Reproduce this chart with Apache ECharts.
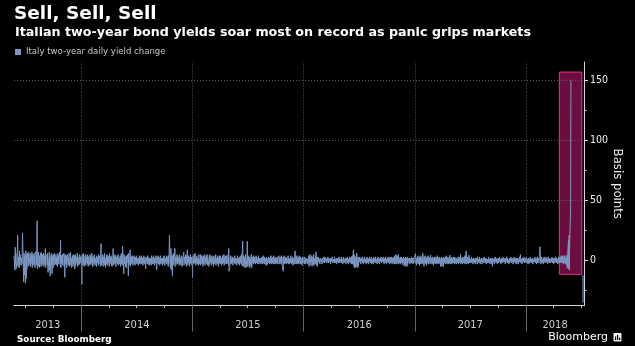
<!DOCTYPE html>
<html>
<head>
<meta charset="utf-8">
<script src="https://cdn.jsdelivr.net/npm/echarts@6/dist/echarts.min.js"></script>
<style>
  html, body { margin: 0; padding: 0; background: #000; }
  #chart { width: 635px; height: 346px; }
</style>
</head>
<body>
<div id="chart"></div>
<script>
// Daily change of the Italian two-year yield, basis points, one value per trading day.
const seriesName = 'Italy two-year daily yield change';

const changes2013 = [4,-8,11,-3,6,-7,2,9,21,-5,
  3,-6,8,-4,5,6,-4,2,-3,7,
  23,-9,-18,6,-12,4,-19,8,-15,5,
  -8,6,3,-5,7,-4,2,6,-5,4,
  -3,7,-6,5,2,-4,6,-3,4,-6,
  5,8,-4,6,33,-7,3,7,-5,4,
  -6,6,2,-5,7,-3,5,-4,3,6,
  -5,4,-3,10,-6,5,3,-4,6,-5,
  -10,4,7,-8,3,-13,5,-4,6,-11,
  4,-6,5,3,-4,6,-3,2,5,-4,
  3,-5,6,-2,4,-3,5,7,-4,17,
  -6,4,-3,5,-4,3,6,-5,4,-14,
  5,-3,4,-6,3,5,-4,2,-3,6,
  -5,3,7,-4,2,-6,4,3,-5,5,
  -3,4,-7,2,5,-4,3,-2,6,-5,
  3,-4,2,5,-3,4,-2,3];

const changes2014 = [3,-20,5,-4,6,-3,4,-5,2,5,
  -4,3,-2,5,-3,4,-5,3,2,-4,
  5,-3,4,-2,6,-4,3,-5,2,4,
  -3,5,-4,2,3,-5,4,-2,3,-4,
  5,-3,2,4,-5,3,14,-4,3,-2,
  5,-5,3,-4,6,-3,2,-6,4,-3,
  5,-4,3,-2,4,-5,6,-3,2,4,
  -4,3,-5,2,10,-4,3,-3,5,-2,
  4,-5,3,-2,4,-3,5,-4,2,3,
  -3,4,-5,6,-3,4,-4,12,-6,-11,
  5,-3,4,-5,3,-6,4,-2,5,-4,
  -13,6,-4,3,9,-5,3,-3,4,-2,
  3,-4,2,4,-3,2,-4,3,-2,4,
  -3,2,3,-4,2,-3,4,-2,3,-3,
  2,4,-3,2,-4,3,-2,4,-3,2,
  -4,-7,3,2,-3,4,-2,3,-4,2,
  3,-3,2,-4,4,-2,3,-3,2,4,
  -3,2,-4,3,-2,4,-5,-8,3,-2,
  4,-3,2,-4,3,-2,4,-3,2,3,
  -4,2,-3,4,-2,3,-4,2,3,-3,
  4,-2,3,-5,4,-3,6,21,-6,4,
  10,-8,5,-13,4,-4,6,-3,5,10,
  -5,3,-4,2,5,-3,4,-2,3,-4,
  5,-3,2,-4,4,-2,3,-5,4,3,
  7,-4,3,-2,5,-3,4,-5,9,-4,
  3,-2,4,-5,3,-3,5,-2,3,-4,2];

const changes2015 = [-14,4,-3,5,-2,3,6,-4,3,-2,
  4,-3,2,-4,3,5,-3,2,-4,5,
  -3,4,-2,3,-5,4,-3,2,5,-4,
  3,-2,4,-3,5,-4,2,3,-5,4,
  -3,5,-2,3,-4,2,4,-3,2,-5,
  4,-3,3,-2,5,-4,2,-3,4,-2,
  3,-5,4,-2,3,-3,4,-4,2,3,
  -3,4,-2,5,-4,3,-2,4,-3,2,
  4,-3,2,5,-4,10,-9,-5,3,-2,
  4,-3,2,-2,3,-4,2,3,-2,4,
  -3,2,3,-4,2,-2,4,-3,2,3,
  -4,3,-2,4,-3,5,-4,16,-5,-6,
  4,-5,3,-6,5,-4,-6,3,16,-5,
  -6,4,-5,3,-6,2,-4,5,-3,-6,
  3,-2,4,-3,2,-2,3,-3,2,4,
  -2,3,-3,2,-2,4,-3,2,3,-2,
  2,-3,3,-2,2,-3,4,-2,3,-3,
  -4,2,-4,3,-4,2,-3,-4,3,-2,
  2,-3,3,-2,4,-3,2,-2,3,-3,
  2,4,-3,2,-2,3,-3,2,-2,3,
  -3,2,4,-3,2,-2,3,-3,4,-2,
  3,-4,-9,3,-2,4,-3,2,-2,3,
  -3,2,3,-2,4,-3,2,-3,2,3,
  -2,4,-3,2,-2,3,-4,2,3,-3,
  2,8,-3,2,-2,4,-3,3,-2,2,
  -3,4,-2,3,-3,2,-2,-4,3,-2,2];

const changes2016 = [2,-3,3,-2,1,-3,2,3,-2,1,
  -3,4,-5,3,-2,5,-4,3,-1,4,
  -5,3,-3,5,-4,2,-3,4,-2,7,
  -4,3,-5,2,-1,3,-2,1,-3,2,
  3,-1,1,-3,2,-1,3,-2,0,-2,
  3,-1,2,-2,1,-1,3,-2,1,-2,
  2,-1,1,-3,2,-1,3,-1,1,-2,
  1,-1,3,-2,1,-2,2,-3,2,-1,
  1,-2,3,-1,2,-2,1,-1,3,-2,
  1,-3,2,-1,3,-2,1,-1,2,-3,
  2,-1,3,-2,1,-3,2,-1,3,-2,
  2,-3,3,-2,4,-3,9,-4,5,-6,
  4,-6,3,-5,4,6,-6,3,-5,2,
  -1,3,-2,1,-3,2,-1,3,-2,1,
  -3,2,-1,3,-2,1,-3,2,-1,3,
  -2,1,-3,2,-1,3,-2,1,-2,3,
  -3,1,-2,2,-3,3,-1,1,-2,3,
  -2,1,-3,2,-1,3,-2,1,-3,2,
  -1,3,-2,-3,2,-1,3,-2,1,-3,
  2,-1,3,-2,1,-3,2,-1,3,-2,
  2,-3,3,-2,2,-2,3,-3,2,3,
  -2,3,-3,2,4,-3,5,-2,3,-3,
  4,-2,5,-3,2,-2,3,-3,2,-2,
  3,-2,2,-4,-5,3,-4,2,-5,3,
  -3,2,-5,3,-4,-3,2,3,-2,2,
  -3,2,-2,3,-2,2,-3,2,3,-2,2];

const changes2017 = [2,6,-3,2,-4,3,-2,4,-3,2,
  -4,3,-2,4,-3,2,-3,4,-2,6,
  -3,-5,3,-2,4,-3,2,-4,3,-2,
  4,-3,2,-3,3,-2,2,4.5,-3,2,
  -2,3,-3,2,-4,3,-2,3,-3,2,
  -2,3,-3,4,-2,2,-3,3,-2,2,
  -5,2,-4,3,-5,2,-3,-5,3,-2,
  2,-3,3,-2,4,-3,2,-2,3,-3,
  2,-2,4.5,-3,2,-2,3,-3,2,-2,
  3,-2,2,-3,3,-2,2,-3,2,3,
  -2,3,-3,2,-2,3,-2,5,-3,2,
  -2,3,-3,2,-2,3,-2,4,-3,2,
  8,-3,2,-2,3,-3,2,4.5,-2,2,
  -2,1,-1,3,-2,1,-3,2,-1,2,
  -2,1,-3,2,-1,2,-3,3,-1,1,
  -2,3,-1,1,-3,2,-1,2,-3,1,
  -1,2,-2,3,-1,1,-2,2,-3,1,
  -2,1,-1,3,-2,1,-3,2,-1,2,
  -3,2,-5,2,-1,1,-3,2,-1,3,
  -2,1,-1,2,-3,1,-2,2,-1,3,
  -2,1,-3,2,-1,1,-2,3,-1,2,
  -1,2,-3,1,-2,3,-1,2,-2,1,
  -3,1,-2,2,-1,3,-2,1,-1,2,
  -3,1,-2,3,-1,2,-2,1,-3,2,
  -1,2,-3,1,-2,3,-1,2,5,-2,
  1,-3,2,-1,2,-1,3,-2,1,-2];

const changes2018 = [2,-1,3,-2,1,-3,2,-3,1,-2,
  3,-1,2,-2,1,-2,2,-3,1,-1,
  2,-1,3,-2,1,-3,2,-1,3,-2,
  2,-2,3,5,11.5,-3,2,-1,3,-2,
  1,-3,2,-1,3,-2,1,-2,3,-1,
  2,-3,1,-2,3,-1,2,-2,1,-2,
  2,-1,3,-2,1,-3,2,-1,2,-2,
  3,-1,2,-2,1,-3,2,-1,3,-2,
  2,-1,3,-2,4,-2,3,-1,4,-3,
  4,-2,3,4,-3,4.5,-4,3,-6.5,4,
  17,-7,21,-8,16,42,150];

// First trading day of each block
const blockStarts = ['2013-05-24','2014-01-01','2015-01-01','2016-01-01','2017-01-01','2018-01-01'];
const blocks = [changes2013, changes2014, changes2015, changes2016, changes2017, changes2018];

// Axis layout
const axisStart = '2013-05-24';
const axisEnd = '2018-07-11';
const yearStarts = ['2014-01-01','2015-01-01','2016-01-01','2017-01-01','2018-01-01'];
const quarterTicks = ['2013-07-01','2013-10-01','2014-01-01','2014-04-01','2014-07-01','2014-10-01',
  '2015-01-01','2015-04-01','2015-07-01','2015-10-01','2016-01-01','2016-04-01','2016-07-01','2016-10-01',
  '2017-01-01','2017-04-01','2017-07-01','2017-10-01','2018-01-01','2018-04-01','2018-07-01'];
const yearLabelAt = ['2013-09-12','2014-07-02','2015-07-02','2016-07-02','2017-07-02','2018-04-07'];
const yLabels = [0, 50, 100, 150];
const yMinorTicks = [-25, 25, 75, 125];
const yGridLines = [50, 100, 150];
const yMin = -37.5;
const yMax = 165.4;

// Highlighted recent period
const highlightFrom = '2018-04-21';
const highlightTo = '2018-07-04';
const highlightLow = -11.5;
const highlightHigh = 157;
// Short marker below the highlight at the right edge
const edgeMarkDate = '2018-07-08';
const edgeMarkRange = [-12, -35];

const ts = s => Date.parse(s + 'T00:00:00Z');

function tradingDays(start, n) {
  const out = [];
  const d = new Date(ts(start));
  while (out.length < n) {
    const w = d.getUTCDay();
    if (w !== 0 && w !== 6) out.push(d.getTime());
    d.setUTCDate(d.getUTCDate() + 1);
  }
  return out;
}

const points = [];
blocks.forEach((vals, b) => {
  const days = tradingDays(blockStarts[b], vals.length);
  vals.forEach((v, i) => points.push([days[i], v]));
});

const lineColor = '#7b97c2';
const axisColor = '#d8d8d8';
const gridColor = '#5c5c5c';
const condensed = "'DejaVu Sans Condensed', 'DejaVu Sans', sans-serif";
const plain = "'DejaVu Sans', sans-serif";

const chart = echarts.init(document.getElementById('chart'), null, { renderer: 'canvas' });

chart.setOption({
  backgroundColor: '#000',
  animation: false,
  title: [
    { text: 'Sell, Sell, Sell', left: 14, top: 4.5, padding: 0,
      textStyle: { color: '#fff', fontFamily: plain, fontWeight: 'bold', fontSize: 18.5, lineHeight: 19 } },
    { text: 'Italian two-year bond yields soar most on record as panic grips markets', left: 15, top: 26, padding: 0,
      textStyle: { color: '#fff', fontFamily: plain, fontWeight: 'bold', fontSize: 12.7, lineHeight: 13 } },
    { text: 'Source: Bloomberg', left: 17, top: 334.5, padding: 0,
      textStyle: { color: '#fff', fontFamily: plain, fontWeight: 'bold', fontSize: 8.8, lineHeight: 10 } }
  ],
  legend: {
    data: [seriesName],
    left: 15, top: 47, padding: 0,
    icon: 'rect', itemWidth: 6, itemHeight: 6,
    itemStyle: { borderWidth: 0 },
    textStyle: { color: '#c4c4c4', fontFamily: condensed, fontSize: 9.5 }
  },
  graphic: [
    { type: 'text', x: 608, y: 337.5, silent: true,
      style: { text: 'Bloomberg', fill: '#fff', font: "11px 'DejaVu Sans'", align: 'right', verticalAlign: 'middle' } },
    { type: 'rect', x: 613.5, y: 333, silent: true, shape: { x: 0, y: 0, width: 8, height: 8.5, r: 1 }, style: { fill: '#f2f2f2' } },
    { type: 'rect', x: 615, y: 336.5, silent: true, shape: { x: 0, y: 0, width: 1.2, height: 3.5 }, style: { fill: '#000' } },
    { type: 'rect', x: 617, y: 335, silent: true, shape: { x: 0, y: 0, width: 1.2, height: 5 }, style: { fill: '#000' } },
    { type: 'rect', x: 619, y: 337.5, silent: true, shape: { x: 0, y: 0, width: 1.2, height: 2.5 }, style: { fill: '#000' } }
  ],
  grid: { left: 14, right: 51, top: 62, bottom: 40.5, containLabel: false, outerBoundsMode: 'none' },
  xAxis: [
    {
      type: 'value', min: ts(axisStart), max: ts(axisEnd), position: 'bottom',
      axisLine: { show: true, onZero: false, lineStyle: { color: axisColor, width: 1 } },
      axisTick: { show: true, length: 2.5, customValues: quarterTicks.map(ts), lineStyle: { color: '#bdbdbd' } },
      axisLabel: {
        show: true, customValues: yearLabelAt.map(ts), hideOverlap: false,
        formatter: v => String(new Date(v).getUTCFullYear()),
        color: '#cfcfcf', fontFamily: condensed, fontSize: 11, margin: 14
      },
      splitLine: { show: false }
    },
    {
      type: 'value', min: ts(axisStart), max: ts(axisEnd), position: 'bottom',
      axisLine: { show: false, onZero: false },
      axisTick: { show: true, length: 26, customValues: yearStarts.map(ts), lineStyle: { color: '#666' } },
      axisLabel: { show: false },
      splitLine: { show: false }
    }
  ],
  yAxis: [
    {
      type: 'value', position: 'right', min: yMin, max: yMax,
      axisLine: { show: true, onZero: false, lineStyle: { color: axisColor, width: 1 } },
      axisTick: { show: true, length: 4, customValues: yLabels, lineStyle: { color: axisColor } },
      axisLabel: { show: true, customValues: yLabels, color: '#eeeeee', fontFamily: condensed, fontSize: 10.5, margin: 6 },
      splitLine: { show: false },
      name: 'Basis points', nameLocation: 'middle', nameRotate: -90, nameGap: 27, nameMoveOverlap: false,
      nameTextStyle: { color: '#eeeeee', fontFamily: condensed, fontSize: 13 }
    },
    {
      type: 'value', position: 'right', min: yMin, max: yMax,
      axisLine: { show: false, onZero: false },
      axisTick: { show: true, length: 2.5, customValues: yMinorTicks, lineStyle: { color: axisColor } },
      axisLabel: { show: false },
      splitLine: { show: false }
    }
  ],
  series: [
    {
      // dotted reference grid
      name: 'grid', type: 'line', data: [], z: 1, silent: true,
      markLine: {
        silent: true, symbol: ['none', 'none'], label: { show: false }, animation: false,
        lineStyle: { color: gridColor, type: [1, 2], width: 1 },
        data: yGridLines.map(v => ({ yAxis: v })).concat(yearStarts.map(d => ({ xAxis: ts(d) })))
      }
    },
    {
      name: seriesName, type: 'line', data: points, z: 2,
      xAxisIndex: 0, yAxisIndex: 0,
      showSymbol: false, symbol: 'none', sampling: null,
      lineStyle: { color: lineColor, width: 1 },
      itemStyle: { color: lineColor },
      emphasis: { disabled: true }
    },
    {
      name: 'highlight', type: 'line', data: [], z: 5, silent: true,
      markArea: {
        silent: true,
        itemStyle: { color: 'rgba(214,26,126,0.5)', borderColor: '#e5338c', borderWidth: 1 },
        data: [[{ coord: [ts(highlightFrom), highlightHigh] }, { coord: [ts(highlightTo), highlightLow] }]]
      },
      markLine: {
        silent: true, symbol: ['none', 'none'], label: { show: false }, animation: false,
        lineStyle: { color: '#3f78a6', type: 'solid', width: 1.5 },
        data: [[{ coord: [ts(edgeMarkDate), edgeMarkRange[0]] }, { coord: [ts(edgeMarkDate), edgeMarkRange[1]] }]]
      }
    }
  ]
});
</script>
</body>
</html>
